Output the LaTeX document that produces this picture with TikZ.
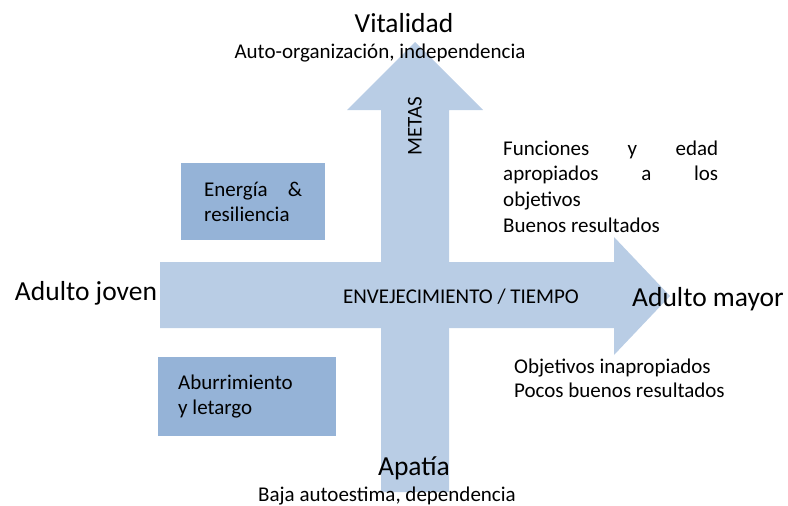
\documentclass[tikz,border=0pt]{standalone}
\usepackage{fontspec}
\setmainfont{Carlito}
\definecolor{ArrowBlue}{RGB}{185, 205, 229}
\definecolor{BoxBlue}{RGB}{149, 179, 215}
\tikzset{
    big/.style = {font=\fontsize{27.5}{30}\selectfont, inner sep=0},
    small/.style = {font=\fontsize{21}{25.5}\selectfont, inner sep=0},
    stateBox/.style = {small, fill=BoxBlue, align=flush left, anchor=north west}
}

\begin{document}
\begin{tikzpicture}[x=1pt, y=-1pt]
    \useasboundingbox (0,0) rectangle (788,506);
    % Time axis
    \fill[ArrowBlue]
    (160,262) to (614,262) to (614,237) to (670,296) to (614,355) to (614,328) to (160,328) to (160,262)
    ;
    % Goals axis
    \fill[ArrowBlue]
    (381,492) to (381,110) to (347,110) to (415,42) to (483,110) to (449,110) to (449,492) to (381,492)
    ;
    % Axis labels
    \node[small, rotate=90] (metas) at (415,126) {METAS};
    \node[small, anchor=base] (tiempo) at (461,303) {ENVEJECIMIENTO / TIEMPO};
    \node[big, anchor=base] (vital) at (404,32) {Vitalidad};
    \node[small, anchor=base] (vitalSub) at (380,58) {Auto-organización, independencia};
    \node[big, anchor=base] (apatia) at (414,475) {Apatía};
    \node[small, anchor=base] (apatiaSub) at (387,501) {Baja autoestima, dependencia};
    \node[big, anchor=base] (joven) at (86,300) {Adulto joven};
    \node[big, anchor=base] (mayor) at (708,306) {Adulto mayor};
    % Boxes
    \node[stateBox, minimum width=144pt, minimum height=77pt, inner xsep=23pt, text width=98pt]
        (energia) at (181,163) {\makebox[98pt]{Energía\hfill\&}\\ resiliencia};
    \node[stateBox, minimum width=178pt, minimum height=79pt, inner xsep=20pt, text width=138pt]
        (aburrimiento) at (158,357) {Aburrimiento\\ y letargo};
    % Outcomes
    \node[small, align=flush left, anchor=base west, text width=215pt, font=\fontsize{21}{25.8}\selectfont] (buenos) at (503,155)
        {\makebox[215pt]{Funciones\hfill y\hfill edad}\\ \makebox[215pt]{apropiados\hfill a\hfill los}\\ objetivos\\ Buenos resultados};
    \node[small, align=flush left, anchor=base west, font=\fontsize{21}{24}\selectfont] (pocos) at (514,397)
        {Objetivos inapropiados\\ Pocos buenos resultados};
\end{tikzpicture}
\end{document}
